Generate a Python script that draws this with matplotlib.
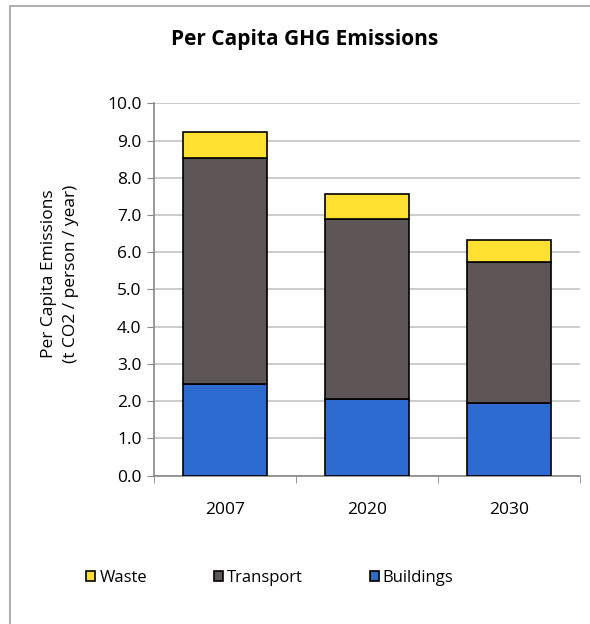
import matplotlib.pyplot as plt
import numpy as np
from matplotlib.patches import Rectangle

years = ["2007", "2020", "2030"]
buildings = [2.45, 2.05, 1.96]
transport = [6.08, 4.84, 3.77]
waste = [0.70, 0.67, 0.60]

yellow = "#FDE030"
brown = "#5E5656"
blue = "#2D6BD1"

plt.rcParams["font.family"] = ["Open Sans", "DejaVu Sans"]

W, H = 590, 624
fig = plt.figure(figsize=(W / 100, H / 100), dpi=100)

# outer chart frame (left and top visible)
fig.patches.append(
    Rectangle((10 / W, -0.1), 1.2, 1 - 6 / H + 0.1, transform=fig.transFigure,
              fill=False, edgecolor="#a0a0a0", linewidth=1.2)
)

ax = fig.add_axes([154 / W, 1 - 475.7 / H, (580 - 154) / W, (475.7 - 103.3) / H])

x = np.arange(len(years))
bottom2 = np.array(buildings) + np.array(transport)
kw = dict(width=0.59, edgecolor="black", linewidth=1.2, zorder=3)
ax.bar(x, buildings, color=blue, label="Buildings", **kw)
ax.bar(x, transport, bottom=buildings, color=brown, label="Transport", **kw)
ax.bar(x, waste, bottom=bottom2, color=yellow, label="Waste", **kw)

ax.set_xlim(-0.5, 2.5)
ax.set_ylim(0, 10)
ax.set_yticks(np.arange(0, 10.01, 1.0))
ax.set_yticklabels([f"{v:.1f}" for v in np.arange(0, 10.01, 1.0)], fontsize=12.5)
ax.set_xticks(x)
ax.set_xticklabels(years, fontsize=12.5)
ax.set_xticks([-0.5, 0.5, 1.5, 2.5], minor=True)
ax.tick_params(axis="x", which="major", length=0, pad=19)
ax.tick_params(axis="x", which="minor", length=5, color="#888888", direction="out")
ax.tick_params(axis="y", length=5, color="#888888", pad=4)

ax.grid(axis="y", color="#c4c4c4", linewidth=1.2, zorder=0)
for s in ["top", "right"]:
    ax.spines[s].set_visible(False)
for s in ["left", "bottom"]:
    ax.spines[s].set_color("#888888")
    ax.spines[s].set_linewidth(1.2)

ax.set_ylabel("Per Capita Emissions\n(t CO2 / person / year)", fontsize=12.5,
              linespacing=1.45, va="center", ha="center")
ax.yaxis.set_label_coords((60 - 154) / 426, (475.7 - 274) / 372.4)

fig.text(305 / W, 1 - 40 / H, "Per Capita GHG Emissions", ha="center", va="center",
         fontsize=15, fontweight="bold")

handles, labels = ax.get_legend_handles_labels()
leg = fig.legend(handles[::-1], labels[::-1], loc="center left", bbox_to_anchor=(86 / W, 1 - 578 / H),
                 ncol=3, frameon=False, fontsize=12, handlelength=0.55, handleheight=0.55,
                 handletextpad=0.25, columnspacing=4.0, borderpad=0, borderaxespad=0)

fig.savefig("out.png", dpi=100)
